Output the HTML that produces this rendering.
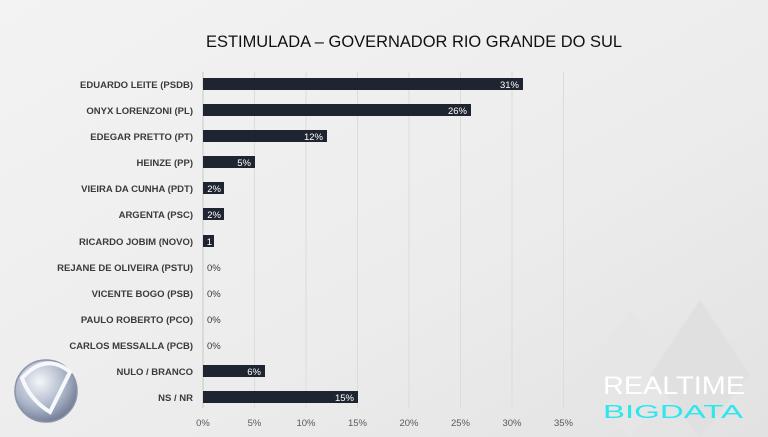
<!DOCTYPE html>
<html><head><meta charset="utf-8"><style>
html,body{margin:0;padding:0;width:768px;height:437px;overflow:hidden;background:#efefef;}
svg{display:block;font-family:"Liberation Sans",sans-serif;}
</style></head><body>
<svg width="768" height="437" viewBox="0 0 768 437">
<defs>
<linearGradient id="bg" x1="0" y1="0" x2="1" y2="1">
<stop offset="0" stop-color="#f3f3f3"/><stop offset="0.6" stop-color="#ececec"/><stop offset="1" stop-color="#e2e2e2"/>
</linearGradient>
<radialGradient id="logo" cx="0.4" cy="0.35" r="0.7">
<stop offset="0" stop-color="#f4f6fa"/><stop offset="0.6" stop-color="#aab4c8"/><stop offset="1" stop-color="#6a7590"/>
</radialGradient>
</defs>
<rect width="768" height="437" fill="url(#bg)"/>
<polygon points="630,310 680,380 630,437 580,380" fill="#e6e6e6"/>
<polygon points="700,300 750,375 700,437 650,375" fill="#e0e0e0"/>
<text x="414" y="47" text-anchor="middle" font-size="17" fill="#111" textLength="416" lengthAdjust="spacingAndGlyphs">ESTIMULADA – GOVERNADOR RIO GRANDE DO SUL</text>
<g stroke="#dcdcdc" stroke-width="1">
<line x1="254.5" y1="72" x2="254.5" y2="408"/><line x1="306" y1="72" x2="306" y2="408"/>
<line x1="357.5" y1="72" x2="357.5" y2="408"/><line x1="409" y1="72" x2="409" y2="408"/>
<line x1="460.5" y1="72" x2="460.5" y2="408"/><line x1="512" y1="72" x2="512" y2="408"/>
<line x1="563.5" y1="72" x2="563.5" y2="408"/>
</g>
<line x1="203" y1="72" x2="203" y2="408" stroke="#c8c8c8"/>
<g font-size="9.5" fill="#595959" text-anchor="middle">
<text x="203" y="426">0%</text><text x="254.5" y="426">5%</text><text x="306" y="426">10%</text>
<text x="357.5" y="426">15%</text><text x="409" y="426">20%</text><text x="460.5" y="426">25%</text>
<text x="512" y="426">30%</text><text x="563.5" y="426">35%</text>
</g>
<g font-size="9.5" font-weight="bold" fill="#3a3a3a" text-anchor="end">
<text x="193" y="88">EDUARDO LEITE (PSDB)</text>
<text x="193" y="114">ONYX LORENZONI (PL)</text>
<text x="193" y="140">EDEGAR PRETTO (PT)</text>
<text x="193" y="166">HEINZE (PP)</text>
<text x="193" y="192">VIEIRA DA CUNHA (PDT)</text>
<text x="193" y="218">ARGENTA (PSC)</text>
<text x="193" y="245">RICARDO JOBIM (NOVO)</text>
<text x="193" y="271">REJANE DE OLIVEIRA (PSTU)</text>
<text x="193" y="297">VICENTE BOGO (PSB)</text>
<text x="193" y="323">PAULO ROBERTO (PCO)</text>
<text x="193" y="349">CARLOS MESSALLA (PCB)</text>
<text x="193" y="375">NULO / BRANCO</text>
<text x="193" y="401">NS / NR</text>
</g>
<g fill="#1f2530">
<rect x="203" y="78" width="320" height="12"/>
<rect x="203" y="104" width="268" height="12"/>
<rect x="203" y="130" width="124" height="12"/>
<rect x="203" y="156" width="52" height="12"/>
<rect x="203" y="182" width="21" height="12"/>
<rect x="203" y="208" width="21" height="12"/>
<rect x="203" y="235" width="11" height="12"/>
<rect x="203" y="365" width="62" height="12"/>
<rect x="203" y="391" width="155" height="12"/>
</g>
<g font-size="9.5" fill="#fff" text-anchor="end">
<text x="519" y="88">31%</text><text x="467" y="114">26%</text><text x="323" y="140">12%</text>
<text x="251" y="166">5%</text><text x="221" y="192">2%</text><text x="221" y="218">2%</text>
<text x="212" y="245">1</text><text x="261" y="375">6%</text><text x="354" y="401">15%</text>
</g>
<g font-size="9.5" fill="#3a3a3a">
<text x="207" y="271">0%</text><text x="207" y="297">0%</text><text x="207" y="323">0%</text><text x="207" y="349">0%</text>
</g>
<circle cx="46" cy="391" r="31" fill="url(#logo)" stroke="#8a93a8" stroke-width="1.5"/>
<path d="M22,378 Q46,352 70,372 L50,412 Q30,400 22,378 Z" fill="none" stroke="#f7f8fb" stroke-width="4"/>
<text x="603" y="394" font-size="25" fill="#ffffff" textLength="142" lengthAdjust="spacingAndGlyphs">REALTIME</text>
<text x="603" y="418" font-size="18" fill="#2ee6ee" textLength="140" lengthAdjust="spacingAndGlyphs">BIGDATA</text>
</svg>
</body></html>
